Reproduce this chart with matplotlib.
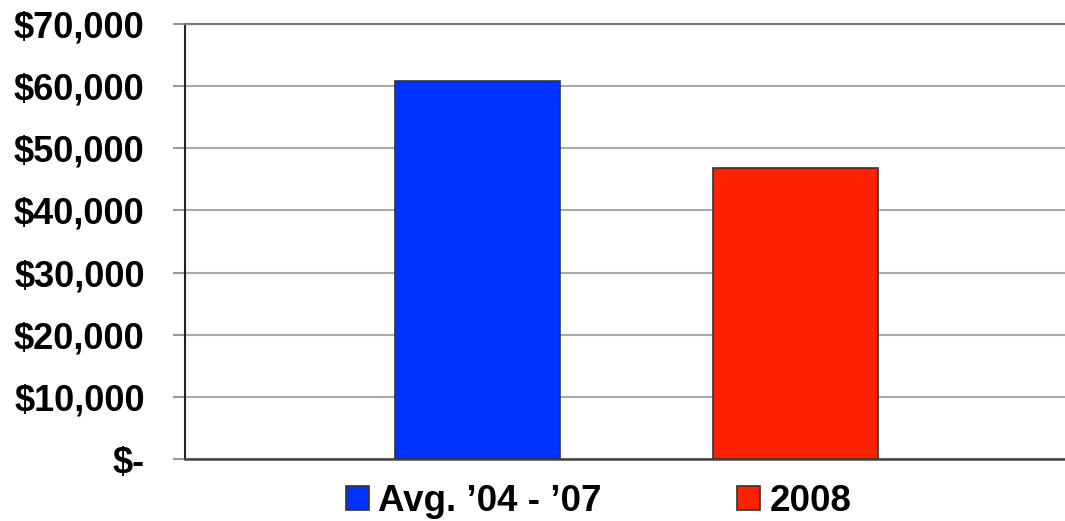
import matplotlib.pyplot as plt
from matplotlib.ticker import FuncFormatter

plt.rcParams['font.family'] = ['Liberation Sans', 'DejaVu Sans']
plt.rcParams['font.weight'] = 'bold'

categories = ["Avg. \u201904 - \u201907", "2008"]
values = [60800, 46800]
colors = ['#0033ff', '#ff2200']
yticks = [0, 10000, 20000, 30000, 40000, 50000, 60000, 70000]


def money(v, pos):
    if v == 0:
        return '$-'
    return '${:,.0f}'.format(v)


fig = plt.figure(figsize=(10.65, 5.21), dpi=100)
ax = fig.add_axes([0.1737, 0.119, 0.83, 0.835])

bars = ax.bar(range(len(values)), values, width=0.52, color=colors,
              edgecolor='#333333', linewidth=1.2, zorder=3)

ax.set_xlim(-0.92, 1.86)
ax.set_ylim(0, 70000)
ax.set_yticks(yticks)
ax.yaxis.set_major_formatter(FuncFormatter(money))
ax.set_xticks([])
ax.grid(axis='y', color='#aaaaaa', linewidth=1.5, zorder=0)
ax.tick_params(axis='y', length=9, width=1.5, color='#999999', pad=20, labelsize=26)
for lab in ax.get_yticklabels():
    lab.set_fontweight('bold')

ax.spines['right'].set_visible(False)
ax.spines['top'].set_color('#777777')
ax.spines['top'].set_linewidth(1.5)
ax.spines['left'].set_color('#222222')
ax.spines['left'].set_linewidth(1.5)
ax.spines['bottom'].set_color('#444444')
ax.spines['bottom'].set_linewidth(1.8)

leg = fig.legend(bars, categories, loc='lower center', bbox_to_anchor=(0.562, -0.06),
                 ncol=2, frameon=False, prop={'size': 26.5, 'weight': 'bold'},
                 handlelength=0.62, handleheight=0.62, handletextpad=0.27,
                 columnspacing=3.66)

fig.savefig('out.png', dpi=100)
